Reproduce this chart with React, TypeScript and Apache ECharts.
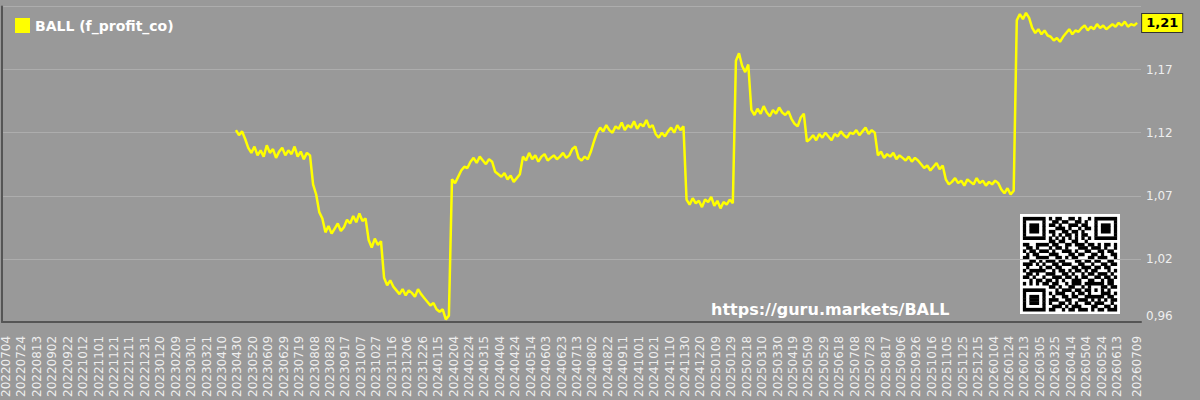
import React, { useEffect, useRef } from "react";
import * as echarts from "echarts";

const SERIES_NAME = "BALL (f_profit_co)";
const AXIS_START = "20220704";
const AXIS_END = "20260709";
const DATA_START = "20230428";
const DATA_STEP_DAYS = 4;
const LAST_LABEL = "1,21";
const WATERMARK = "https://guru.markets/BALL";
const Y_MIN = 0.965;
const Y_MAX = 1.215;
const Y_STEP = 0.05;
const Y_TICK_LABELS = ["0,96", "1,02", "1,07", "1,12", "1,17", "1,22"];

// series values, one every 4 days from DATA_START
const values = [
  1.117, 1.113, 1.116, 1.11,
  1.103, 1.099, 1.104, 1.097, 1.101, 1.096, 1.105, 1.099, 1.102, 1.095, 1.1, 1.103, 1.097, 1.101, 1.098, 1.104, 1.096, 1.1, 1.094, 1.099, 1.097,
  1.074, 1.066, 1.052, 1.047,
  1.036, 1.041, 1.035, 1.039, 1.043, 1.037, 1.04,
  1.046, 1.043, 1.049, 1.044, 1.051, 1.045, 1.047,
  1.03, 1.024, 1.031, 1.026, 1.029,
  1.0, 0.994, 0.998, 0.993,
  0.99, 0.987, 0.991, 0.986, 0.99, 0.988, 0.985, 0.991, 0.987, 0.984,
  0.981, 0.978, 0.98, 0.975, 0.973, 0.975, 0.967, 0.97,
  1.078, 1.075, 1.08,
  1.085, 1.088, 1.087,
  1.092, 1.095, 1.091, 1.096, 1.093, 1.09, 1.094, 1.092,
  1.084, 1.082,
  1.08, 1.083, 1.078, 1.081, 1.076, 1.079, 1.082,
  1.096, 1.093, 1.099, 1.094, 1.097, 1.092, 1.096, 1.098, 1.093, 1.095, 1.097, 1.094, 1.096, 1.099, 1.095, 1.097,
  1.102, 1.104,
  1.095, 1.093, 1.096, 1.094,
  1.1, 1.108, 1.115,
  1.119, 1.116, 1.121, 1.117, 1.115, 1.12, 1.118, 1.123, 1.117, 1.121, 1.119, 1.124, 1.118, 1.122, 1.12, 1.125, 1.119, 1.121, 1.114, 1.111, 1.115, 1.112, 1.116, 1.119, 1.115, 1.121, 1.117, 1.12,
  1.062, 1.058, 1.063, 1.059, 1.061, 1.056, 1.062, 1.06, 1.064, 1.057, 1.061, 1.055, 1.06, 1.058, 1.062, 1.059,
  1.172, 1.178, 1.168, 1.163, 1.169,
  1.133, 1.129, 1.134, 1.13, 1.136, 1.131, 1.128, 1.133, 1.13, 1.135, 1.131, 1.129, 1.132,
  1.126, 1.122, 1.12, 1.127, 1.13,
  1.108, 1.11, 1.113, 1.109, 1.114, 1.111, 1.115, 1.112, 1.109, 1.114, 1.112, 1.116, 1.113, 1.111, 1.115, 1.114, 1.117, 1.113, 1.116, 1.119, 1.114, 1.117, 1.115,
  1.097, 1.1, 1.095, 1.098, 1.096, 1.099, 1.094, 1.097, 1.095, 1.093, 1.096, 1.092, 1.095, 1.093,
  1.09, 1.087, 1.089, 1.085, 1.088, 1.091, 1.086, 1.089,
  1.078, 1.074, 1.076, 1.079, 1.075, 1.077, 1.073, 1.078, 1.076, 1.074, 1.079, 1.075, 1.077, 1.073, 1.076, 1.074, 1.077, 1.075,
  1.07, 1.067, 1.071, 1.066, 1.069,
  1.204, 1.209, 1.205, 1.21, 1.206,
  1.198, 1.194, 1.197, 1.193, 1.196, 1.192,
  1.191, 1.188, 1.19, 1.187, 1.191,
  1.194, 1.197, 1.193, 1.196, 1.195,
  1.198, 1.2, 1.196, 1.199, 1.197, 1.201, 1.198, 1.2, 1.197, 1.199,
  1.201, 1.199, 1.202, 1.2, 1.203, 1.199, 1.201, 1.2, 1.202,
];

const QR_ROWS = [
  "1111111 0 1011001101001 0 1111111",
  "1000001 0 0110110011010 0 1000001",
  "1011101 0 1101001110110 0 1011101",
  "1011101 0 0011101001011 0 1011101",
  "1011101 0 1100110110100 0 1011101",
  "1000001 0 0101011010110 0 1000001",
  "1111111 0 1010101010101 0 1111111",
  "0000000 0 1101100110010 0 0000000",
  "1100111 1 0110011011101 1 0101101",
  "0110100 0 1011010001110 1 1101001",
  "1011011 1 0100111010011 0 0110110",
  "0101100 0 1110001101100 1 1010011",
  "1100111 1 0011010110001 1 0111001",
  "0011010 1 1101100011011 0 1100110",
  "1110101 0 0110111001100 1 0011011",
  "0100010 1 1011000110111 0 1101100",
  "1011111 0 0101101011010 1 1000101",
  "0110100 1 1100110100101 1 0111010",
  "1101001 0 0111011010110 0 1101101",
  "0010110 1 1010100111001 1 0010110",
  "1010101 1 011001011101 11111 0110",
  "0000000 0 110100110010 10001 1011",
  "1111111 0 001011101101 10101 0100",
  "1000001 0 101110010110 10001 1101",
  "1011101 0 010011011001 11111 0110",
  "1011101 0 111001100111 01010 1011",
  "1011101 0 100110101001 10111 0010",
  "1000001 0 011101011100 01100 1101",
  "1111111 0 110010110111 01011 0111",
];

const DAY_MS = 86400000;
const toUTC = (s: string) => Date.UTC(+s.slice(0, 4), +s.slice(4, 6) - 1, +s.slice(6, 8));
const dayOffset = (s: string) => Math.round((toUTC(s) - toUTC(AXIS_START)) / DAY_MS);
const pad = (n: number) => (n < 10 ? "0" + n : "" + n);
const fmtDay = (d: number) => {
  const dt = new Date(toUTC(AXIS_START) + Math.round(d) * DAY_MS);
  return `${dt.getUTCFullYear()}${pad(dt.getUTCMonth() + 1)}${pad(dt.getUTCDate())}`;
};

const TOTAL_DAYS = dayOffset(AXIS_END);
const X_TICK_LABELS: string[] = [];
for (let d = 0; d <= TOTAL_DAYS - 20; d += 20) X_TICK_LABELS.push(fmtDay(d));
X_TICK_LABELS.push(AXIS_END);

const FONT = "DejaVu Sans";

function buildQr() {
  const rows = QR_ROWS.map((r) => r.replace(/ /g, ""));
  const n = rows.length;
  const size = 100;
  const x0 = 1020;
  const y0 = 214;
  const m = 3.25;
  const off = (size - n * m) / 2;
  const children: any[] = [
    { type: "rect", shape: { x: x0, y: y0, width: size, height: size }, style: { fill: "#ffffff" } },
  ];
  rows.forEach((row, r) => {
    let c = 0;
    while (c < n) {
      if (row[c] === "1") {
        let e = c;
        while (e < n && row[e] === "1") e++;
        children.push({
          type: "rect",
          shape: { x: x0 + off + c * m, y: y0 + off + r * m, width: (e - c) * m, height: m + 0.4 },
          style: { fill: "#000000" },
        });
        c = e;
      } else c++;
    }
  });
  return { type: "group", silent: true, children };
}

export default function App() {
  const ref = useRef<HTMLDivElement>(null);
  useEffect(() => {
    if (!ref.current) return;
    const chart = echarts.init(ref.current, null, { renderer: "svg" });
    const startDay = dayOffset(DATA_START);
    const data = values.map((v, i) => [startDay + i * DATA_STEP_DAYS, v]);
    chart.setOption({
      animation: false,
      backgroundColor: "#999999",
      textStyle: { fontFamily: FONT },
      grid: { left: 0, right: 59, top: 6.5, bottom: 75.5, containLabel: false },
      legend: {
        data: [SERIES_NAME],
        left: 10,
        top: 13,
        itemWidth: 15,
        itemHeight: 15,
        icon: "rect",
        itemGap: 10,
        textStyle: { color: "#ffffff", fontWeight: "bold", fontSize: 14, fontFamily: FONT },
      },
      xAxis: {
        type: "value",
        min: -5,
        max: TOTAL_DAYS + 5,
        splitLine: { show: false },
        axisTick: { show: false },
        axisLine: { show: true, onZero: false, lineStyle: { color: "#555555", width: 2 } },
        axisLabel: {
          customValues: X_TICK_LABELS.map(dayOffset),
          formatter: (v: number) => fmtDay(v),
          rotate: 90,
          margin: 14,
          color: "#eeeeee",
          fontSize: 12,
          fontFamily: FONT,
        },
      },
      yAxis: [
        {
          type: "value",
          position: "right",
          min: Y_MIN,
          max: Y_MAX,
          interval: Y_STEP,
          axisLine: { show: false },
          axisTick: { show: false },
          splitLine: { show: true, lineStyle: { color: "#adadad", width: 1 } },
          axisLabel: {
            color: "#eeeeee",
            fontSize: 12,
            fontFamily: FONT,
            margin: 5,
            showMaxLabel: false,
            verticalAlignMinLabel: "bottom",
            formatter: (v: number) => Y_TICK_LABELS[Math.round((v - Y_MIN) / Y_STEP)],
          },
        },
        {
          type: "value",
          position: "left",
          min: Y_MIN,
          max: Y_MAX,
          axisLine: { show: true, onZero: false, lineStyle: { color: "#555555", width: 2 } },
          axisTick: { show: false },
          axisLabel: { show: false },
          splitLine: { show: false },
        },
      ],
      series: [
        {
          name: SERIES_NAME,
          type: "line",
          yAxisIndex: 0,
          data,
          showSymbol: false,
          symbol: "none",
          color: "#ffff00",
          lineStyle: { color: "#ffff00", width: 2.5 },
          endLabel: {
            show: true,
            formatter: () => LAST_LABEL,
            distance: 5,
            backgroundColor: "#ffff00",
            borderColor: "#333333",
            borderWidth: 1,
            padding: [3, 4, 2, 4],
            color: "#000000",
            fontWeight: "bold",
            fontSize: 13,
            fontFamily: FONT,
          },
        },
      ],
      graphic: [
        {
          type: "text",
          left: 711,
          top: 301,
          silent: true,
          style: { text: WATERMARK, fill: "#ffffff", font: `bold 16px ${FONT}` },
        },
        buildQr(),
      ],
    });
    return () => chart.dispose();
  }, []);
  return (
    <div
      ref={ref}
      style={{ position: "absolute", left: 0, top: 0, width: 1200, height: 400 }}
    />
  );
}
